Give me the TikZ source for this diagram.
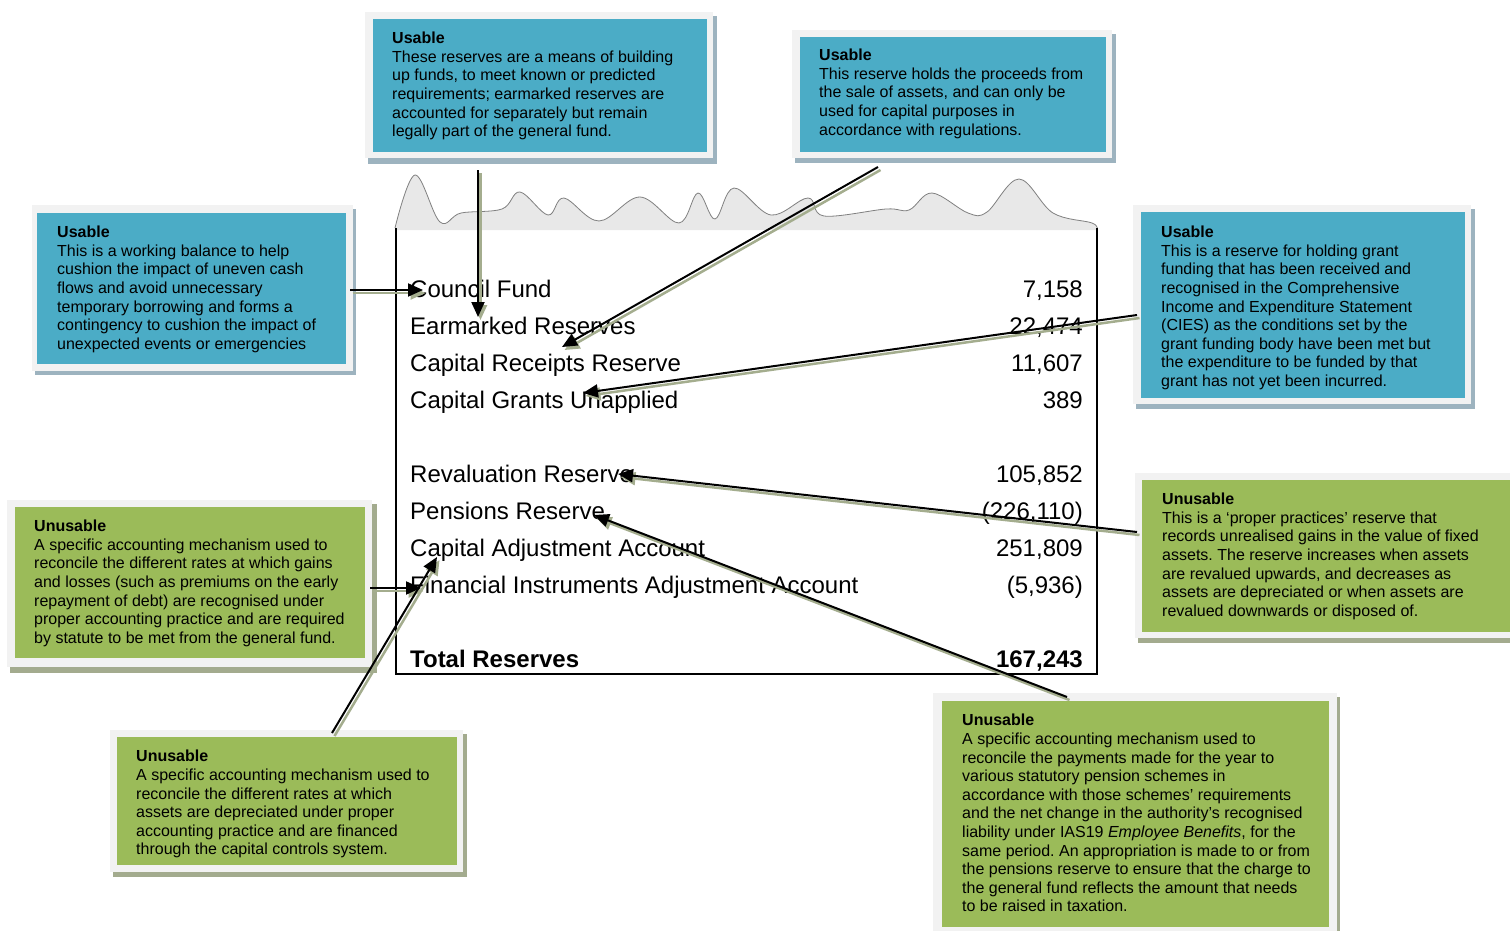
\documentclass[tikz,border=0pt]{standalone}
\usepackage{fontspec}
\setmainfont{Liberation Sans}
\usetikzlibrary{arrows.meta}
\frenchspacing

\definecolor{usable}{HTML}{4BACC6}
\definecolor{unusable}{HTML}{9BBB59}
\definecolor{framefill}{HTML}{F2F2F2}
\definecolor{blueshadow}{HTML}{9DB3BF}
\definecolor{greenshadow}{HTML}{A3AB8E}
\definecolor{arrowshadow}{HTML}{A4AD8E}
\definecolor{wavefill}{HTML}{E8E8E8}

\begin{document}
\begin{tikzpicture}[x=1pt,y=-1pt,
    note/.style={anchor=north west, inner sep=0pt, align=left, font=\fontsize{16}{18.6}\selectfont},
    entry/.style={anchor=base west, inner sep=0pt, font=\fontsize{24}{29}\selectfont},
    amount/.style={anchor=base east, inner sep=0pt, font=\fontsize{24}{29}\selectfont},
    arr/.style={line width=2pt, -{Triangle[length=15pt,width=13pt]}},
    arrsh/.style={arr, arrowshadow, line width=2.5pt, transform canvas={shift={(2.5pt,-3pt)}}}]
    \clip (0,0) rectangle (1510,931);
    \fill[white] (0,0) rectangle (1510,931);

    % Torn top of the statement
    \fill[wavefill] plot[smooth, tension=0.6] coordinates {(395,228) (415,175) (440,222) (461,213) (502,209) (520,192) (548,215) (564,198) (599,221) (640,197) (679,223) (698,193) (715,219) (734,188) (771,215) (808,198) (824,216) (886,209) (909,210) (932,193) (968,213) (987,212) (1019,179) (1053,213) (1092,223) (1097,230)} -- (395,230) -- cycle;
    \draw[gray, line width=0.8pt] plot[smooth, tension=0.6] coordinates {(395,228) (415,175) (440,222) (461,213) (502,209) (520,192) (548,215) (564,198) (599,221) (640,197) (679,223) (698,193) (715,219) (734,188) (771,215) (808,198) (824,216) (886,209) (909,210) (932,193) (968,213) (987,212) (1019,179) (1053,213) (1092,223) (1097,230)};

    % Statement body
    \draw[line width=1.5pt] (396,228) -- (396,674) -- (1097,674) -- (1097,228);
    \node[entry] (cf) at (410,297) {Council Fund};
    \node[entry] (er) at (410,334) {Earmarked Reserves};
    \node[entry] (crr) at (410,371) {Capital Receipts Reserve};
    \node[entry] (cgu) at (410,408) {Capital Grants Unapplied};
    \node[entry] (rr) at (410,482) {Revaluation Reserve};
    \node[entry] (pr) at (410,519) {Pensions Reserve};
    \node[entry] (caa) at (410,556) {Capital Adjustment Account};
    \node[entry] (fia) at (410,593) {Financial Instruments Adjustment Account};
    \node[entry, font=\fontsize{24}{29}\selectfont\bfseries] (tot) at (410,667) {Total Reserves};
    \node[amount] (cfv) at (1083,297) {7,158};
    \node[amount] (erv) at (1083,334) {22,474};
    \node[amount] (crrv) at (1083,371) {11,607};
    \node[amount] (cguv) at (1083,408) {389};
    \node[amount] (rrv) at (1083,482) {105,852};
    \node[amount] (prv) at (1083,519) {(226,110)};
    \node[amount] (caav) at (1083,556) {251,809};
    \node[amount] (fiav) at (1083,593) {(5,936)};
    \node[amount, font=\fontsize{24}{29}\selectfont\bfseries] (totv) at (1083,667) {167,243};

    % Usable reserves notes
    \fill[blueshadow] (35,209) rectangle (356,375);
    \fill[framefill] (32,205) rectangle (353,371);
    \fill[usable] (37,213) rectangle (346,364);
    \node[note] (cfnote) at (57,226) {\textbf{Usable}\\This is a working balance to help\\cushion the impact of uneven cash\\flows and avoid unnecessary\\temporary borrowing and forms a\\contingency to cushion the impact of\\unexpected events or emergencies};

    \fill[blueshadow] (368,16) rectangle (717,164);
    \fill[framefill] (365,12) rectangle (713,158);
    \fill[usable] (373,19) rectangle (707,152);
    \node[note] (ernote) at (392,32) {\textbf{Usable}\\These reserves are a means of building\\up funds, to meet known or predicted\\requirements; earmarked reserves are\\accounted for separately but remain\\legally part of the general fund.};

    \fill[blueshadow] (795,34) rectangle (1116,163);
    \fill[framefill] (792,30) rectangle (1112,158);
    \fill[usable] (800,37) rectangle (1106,152);
    \node[note] (crrnote) at (819,49) {\textbf{Usable}\\This reserve holds the proceeds from\\the sale of assets, and can only be\\used for capital purposes in\\accordance with regulations.};

    \fill[blueshadow] (1136,209) rectangle (1475,409);
    \fill[framefill] (1133,205) rectangle (1471,404);
    \fill[usable] (1141,212) rectangle (1465,398);
    \node[note] (cgunote) at (1161,226) {\textbf{Usable}\\This is a reserve for holding grant\\funding that has been received and\\recognised in the Comprehensive\\Income and Expenditure Statement\\(CIES) as the conditions set by the\\grant funding body have been met but\\the expenditure to be funded by that\\grant has not yet been incurred.};

    % Unusable reserves notes
    \fill[greenshadow] (1138,477) rectangle (1520,643);
    \fill[framefill] (1135,473) rectangle (1520,638);
    \fill[unusable] (1142,480) rectangle (1520,632);
    \node[note] (rrnote) at (1162,493) {\textbf{Unusable}\\This is a `proper practices' reserve that\\records unrealised gains in the value of fixed\\assets. The reserve increases when assets\\are revalued upwards, and decreases as\\assets are depreciated or when assets are\\revalued downwards or disposed of.};

    \fill[greenshadow] (10,504) rectangle (377,673);
    \fill[framefill] (7,500) rectangle (372,667);
    \fill[unusable] (15,507) rectangle (365,658);
    \node[note] (fianote) at (34,520) {\textbf{Unusable}\\A specific accounting mechanism used to\\reconcile the different rates at which gains\\and losses (such as premiums on the early\\repayment of debt) are recognised under\\proper accounting practice and are required\\by statute to be met from the general fund.};

    \fill[greenshadow] (113,734) rectangle (467,877);
    \fill[framefill] (110,730) rectangle (463,872);
    \fill[unusable] (117,737) rectangle (457,865);
    \node[note] (caanote) at (136,750) {\textbf{Unusable}\\A specific accounting mechanism used to\\reconcile the different rates at which\\assets are depreciated under proper\\accounting practice and are financed\\through the capital controls system.};

    \fill[greenshadow] (936,697) rectangle (1340,940);
    \fill[framefill] (933,693) rectangle (1337,940);
    \fill[unusable] (942,701) rectangle (1329,927);
    \node[note] (prnote) at (962,714) {\textbf{Unusable}\\A specific accounting mechanism used to\\reconcile the payments made for the year to\\various statutory pension schemes in\\accordance with those schemes' requirements\\and the net change in the authority's recognised\\liability under IAS19 \textit{Employee Benefits}, for the\\same period. An appropriation is made to or from\\the pensions reserve to ensure that the charge to\\the general fund reflects the amount that needs\\to be raised in taxation.};

    % Arrow ends
    \coordinate (cf-tail) at (350,290);
    \coordinate (cf-tip) at (423,290);
    \coordinate (er-tail) at (478,170);
    \coordinate (er-tip) at (478,317);
    \coordinate (crr-tail) at (878,167);
    \coordinate (crr-tip) at (562,347);
    \coordinate (cgu-tail) at (1137,315);
    \coordinate (cgu-tip) at (583,393);
    \coordinate (rr-tail) at (1137,532);
    \coordinate (rr-tip) at (618,474);
    \coordinate (pr-tail) at (1067,697);
    \coordinate (pr-tip) at (594,515);
    \coordinate (fia-tail) at (370,588);
    \coordinate (fia-tip) at (421,588);
    \coordinate (caa-tail) at (332,733);
    \coordinate (caa-tip) at (437,557);

    % Arrows
    \foreach \a in {cf, er, crr, cgu, rr, pr, fia, caa} {
        \draw[arrsh] (\a-tail) -- (\a-tip);
        \draw[arr] (\a-tail) -- (\a-tip);
    }
\end{tikzpicture}
\end{document}
